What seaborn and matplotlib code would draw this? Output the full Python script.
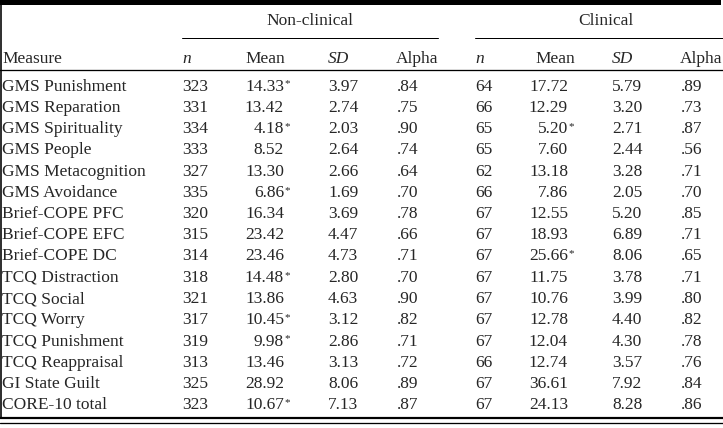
import matplotlib.pyplot as plt
import seaborn as sns

measures = ["GMS Punishment", "GMS Reparation", "GMS Spirituality", "GMS People",
            "GMS Metacognition", "GMS Avoidance", "Brief-COPE PFC", "Brief-COPE EFC",
            "Brief-COPE DC", "TCQ Distraction", "TCQ Social", "TCQ Worry",
            "TCQ Punishment", "TCQ Reappraisal", "GI State Guilt", "CORE-10 total"]

nc_n = [323, 331, 334, 333, 327, 335, 320, 315, 314, 318, 321, 317, 319, 313, 325, 323]
nc_mean = [14.33, 13.42, 4.18, 8.52, 13.30, 6.86, 16.34, 23.42, 23.46, 14.48, 13.86,
           10.45, 9.98, 13.46, 28.92, 10.67]
nc_sig = [1, 0, 1, 0, 0, 1, 0, 0, 0, 1, 0, 1, 1, 0, 0, 1]
nc_sd = [3.97, 2.74, 2.03, 2.64, 2.66, 1.69, 3.69, 4.47, 4.73, 2.80, 4.63, 3.12, 2.86,
         3.13, 8.06, 7.13]
nc_alpha = [.84, .75, .90, .74, .64, .70, .78, .66, .71, .70, .90, .82, .71, .72, .89, .87]

cl_n = [64, 66, 65, 65, 62, 66, 67, 67, 67, 67, 67, 67, 67, 66, 67, 67]
cl_mean = [17.72, 12.29, 5.20, 7.60, 13.18, 7.86, 12.55, 18.93, 25.66, 11.75, 10.76,
           12.78, 12.04, 12.74, 36.61, 24.13]
cl_sig = [0, 0, 1, 0, 0, 0, 0, 0, 1, 0, 0, 0, 0, 0, 0, 0]
cl_sd = [5.79, 3.20, 2.71, 2.44, 3.28, 2.05, 5.20, 6.89, 8.06, 3.78, 3.99, 4.40, 4.30,
         3.57, 7.92, 8.28]
cl_alpha = [.89, .73, .87, .56, .71, .70, .85, .71, .65, .71, .80, .82, .78, .76, .84, .86]

sns.set_style("white")
plt.rcParams['font.family'] = ['Liberation Serif', 'DejaVu Serif']

W, H = 723, 428
fig = plt.figure(figsize=(W / 100, H / 100), dpi=100)
ax = fig.add_axes([0, 0, 1, 1])
ax.set_xlim(0, W)
ax.set_ylim(H, 0)
ax.axis("off")

fs = 12.5
px = 0.72  # points per pixel

# frame rules
ax.axhspan(0, 4.5, xmin=0, xmax=721 / W, color="black", lw=0)
ax.plot([1, 1], [0, 417], color="black", lw=1.6 * px)
ax.plot([0, W], [70, 70], color="black", lw=1.3 * px)
ax.plot([0, W], [417.5, 417.5], color="black", lw=2.2 * px)
ax.plot([0, W], [422.5, 422.5], color="black", lw=1.3 * px)
ax.plot([182, 438], [38, 38], color="black", lw=1.0 * px)
ax.plot([475, W], [38, 38], color="black", lw=1.0 * px)

# group headers
ax.text(310, 25, "Non-clinical", fontsize=fs, ha="center", va="baseline")
ax.text(606, 25, "Clinical", fontsize=fs, ha="center", va="baseline")

# column headers
hy = 63
ax.text(2, hy, "Measure", fontsize=fs, va="baseline")
groups = [(182, 245, 328, 396), (475, 535, 612, 680)]
for xn, xm, xs, xa in groups:
    ax.text(xn, hy, "n", fontsize=fs, style="italic", va="baseline")
    ax.text(xm, hy, "Mean", fontsize=fs, va="baseline")
    ax.text(xs, hy, "SD", fontsize=fs, style="italic", va="baseline")
    ax.text(xa, hy, "Alpha", fontsize=fs, va="baseline")

# body
mean_right = [284, 568]
data = [(nc_n, nc_mean, nc_sig, nc_sd, nc_alpha), (cl_n, cl_mean, cl_sig, cl_sd, cl_alpha)]
for i, m in enumerate(measures):
    y = 90.5 + i * 21.25
    ax.text(2, y, m, fontsize=fs, va="baseline")
    for g, (n, mean, sig, sd, alpha) in enumerate(data):
        xn, xm, xs, xa = groups[g]
        ax.text(xn, y, f"{n[i]}", fontsize=fs, va="baseline")
        ax.text(mean_right[g], y, f"{mean[i]:.2f}", fontsize=fs, ha="right", va="baseline")
        if sig[i]:
            ax.text(mean_right[g] + 0.5, y - 4, "*", fontsize=8, va="baseline")
        ax.text(xs, y, f"{sd[i]:.2f}", fontsize=fs, va="baseline")
        ax.text(xa + 1, y, f"{alpha[i]:.2f}"[1:], fontsize=fs, va="baseline")

fig.savefig("out.png", dpi=100)
